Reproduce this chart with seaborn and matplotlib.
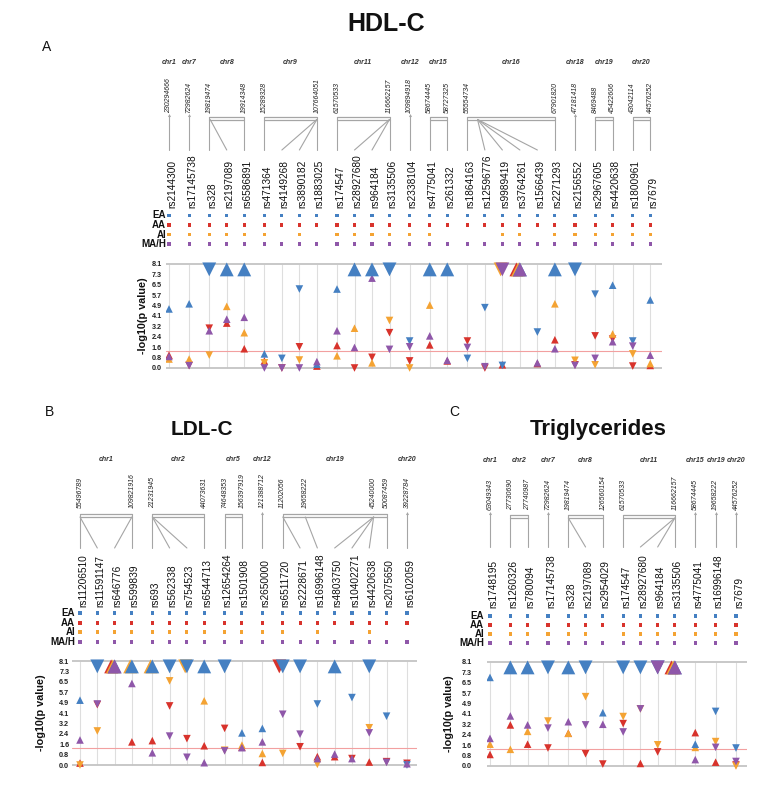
import numpy as np
import pandas as pd
import matplotlib
matplotlib.use("Agg")
import matplotlib.pyplot as plt
import seaborn as sns

sns.set_theme(style="white")
plt.rcParams["font.family"] = ["Liberation Sans", "DejaVu Sans"]

# ---------------------------------------------------------------- data
POPS = ["EA", "AA", "AI", "MA/H"]
COLORS = {"EA": "#4580c2", "AA": "#d8332c", "AI": "#f4a333", "MA/H": "#8f57a9"}
Y_TICKS = [0.0, 0.81, 1.62, 2.43, 3.24, 4.05, 4.86, 5.67, 6.48, 7.29, 8.1]
Y_TICKLABELS = ["0.0", "0.8", "1.6", "2.4", "3.2", "4.1", "4.9", "5.7", "6.5", "7.3", "8.1"]
SIG = 7.3          # genome-wide significance (capped, big marker)
P05 = 1.3          # -log10(0.05)

# ---- Panel A : HDL-C
A_snps = ["rs2144300", "rs17145738", "rs328", "rs2197089", "rs6586891", "rs471364", "rs4149268",
          "rs3890182", "rs1883025", "rs174547", "rs28927680", "rs964184", "rs3135506", "rs2338104",
          "rs4775041", "rs261332", "rs1864163", "rs12596776", "rs9989419", "rs3764261", "rs1566439",
          "rs2271293", "rs2156552", "rs2967605", "rs4420638", "rs1800961", "rs7679"]
A_chr = ["chr1", "chr7", "chr8", "chr8", "chr8", "chr9", "chr9", "chr9", "chr9", "chr11", "chr11",
         "chr11", "chr11", "chr12", "chr15", "chr15", "chr16", "chr16", "chr16", "chr16", "chr16",
         "chr16", "chr18", "chr19", "chr19", "chr20", "chr20"]
A_bp = [230294666, 72982624, 19819474, 19822000, 19914348, 15289328, 107540000, 107630000,
        107664051, 61570533, 116600000, 116640000, 116662157, 109894918, 58674445, 58727325,
        55554734, 56990000, 56995000, 57000000, 57005000, 67901820, 47181418, 8469488, 45422606,
        43042114, 44576252]
A_EA = [4.6, 5.0, 8.1, 8.1, 8.1, 1.1, 0.75, 6.15, 0.3, 6.15, 8.1, 8.1, 8.1, 2.1, 8.1, 8.1, 0.75,
        4.7, 0.2, 8.1, 2.8, 8.1, 8.1, 5.75, 6.45, 2.1, 5.3]
A_EA_dir = "^ ^ v ^ ^ ^ v v ^ ^ ^ ^ v v ^ ^ v v v ^ v ^ v v ^ v ^".split()
A_AA = [1.0, 0.2, 3.1, 3.5, 1.5, 0.55, 0.0, 1.65, 0.15, 1.75, 0.0, 0.83, 2.75, 0.55, 1.8, 0.55,
        2.1, 0.0, 0.25, 8.1, 0.35, 2.2, 0.25, 2.5, 2.25, 0.15, 0.2]
A_AA_dir = "^ v v ^ ^ ^ v v ^ ^ v v v v ^ ^ v v ^ ^ ^ ^ v v v v ^".split()
A_AI = [0.7, 0.7, 1.0, 4.8, 2.75, 0.4, None, 0.62, None, 0.95, 3.1, 0.4, 3.7, 0.0, 4.9, None,
        None, None, 8.1, 8.1, None, 5.0, 0.6, 0.25, 2.65, 1.1, 0.35]
A_AI_dir = "^ ^ v ^ ^ v ^ v ^ ^ ^ ^ v v ^ ^ ^ ^ v ^ ^ ^ v v ^ v ^".split()
A_MAH = [0.9, 0.18, 2.9, 3.8, 3.95, 0.0, 0.0, 0.0, 0.5, 2.9, 1.6, 7.0, 1.45, 1.65, 2.5, 0.6,
         1.6, 0.1, 8.1, 8.1, 0.4, 1.5, 0.2, 0.75, 2.05, 1.7, 1.0]
A_MAH_dir = "^ v ^ ^ ^ v v v ^ ^ ^ ^ v v ^ ^ v v v ^ ^ ^ v v ^ v ^".split()

# ---- Panel B : LDL-C
B_snps = ["rs11206510", "rs11591147", "rs646776", "rs599839", "rs693", "rs562338", "rs754523",
          "rs6544713", "rs12654264", "rs1501908", "rs2650000", "rs6511720", "rs2228671",
          "rs16996148", "rs4803750", "rs10402271", "rs4420638", "rs2075650", "rs6102059"]
B_chr = ["chr1", "chr1", "chr1", "chr1", "chr2", "chr2", "chr2", "chr2", "chr5", "chr5", "chr12",
         "chr19", "chr19", "chr19", "chr19", "chr19", "chr19", "chr19", "chr20"]
B_bp = [55496789, 55505000, 109800000, 109821916, 21231945, 21250000, 21300000, 44073631,
        74648353, 156397919, 121388712, 11202056, 11230000, 19658222, 45240000, 45245000,
        45247627, 50087459, 39228784]
B_EA = [5.05, 8.1, 8.1, 8.1, 8.1, 8.1, 8.1, 8.1, 8.1, 2.5, 2.85, 8.1, 8.1, 4.75, 8.1, 5.25, 8.1,
        3.8, 0.0]
B_EA_dir = "^ v ^ ^ ^ v v ^ v ^ ^ v v v ^ v v v v".split()
B_AA = [0.15, 4.7, 8.1, 1.8, 1.9, 4.6, 2.05, 1.5, 2.85, 1.4, 0.2, 8.1, 1.42, 0.65, 0.65, 0.5,
        0.23, 0.26, 0.13]
B_AA_dir = "^ v ^ ^ ^ v v ^ v ^ ^ v v ^ ^ v ^ v v".split()
B_AI = [0.0, 2.65, 8.1, 8.1, 8.1, 6.55, 8.1, 5.0, 1.15, 1.55, 0.9, 0.9, None, 0.05, None, None,
        2.9, None, None]
B_AI_dir = "v v ^ ^ ^ v v ^ v ^ ^ v v v ^ ^ v v v".split()
B_MAH = [1.95, 4.75, 8.1, 6.35, 0.95, 2.25, 0.6, 0.18, 1.1, 1.35, 1.8, 3.95, 2.4, 0.5, 0.85,
         0.5, 2.5, 0.2, 0.1]
B_MAH_dir = "^ v ^ ^ ^ v v ^ v ^ ^ v v ^ ^ ^ v v ^".split()

# ---- Panel C : Triglycerides
C_snps = ["rs1748195", "rs1260326", "rs780094", "rs17145738", "rs328", "rs2197089", "rs2954029",
          "rs174547", "rs28927680", "rs964184", "rs3135506", "rs4775041", "rs16996148", "rs7679"]
C_chr = ["chr1", "chr2", "chr2", "chr7", "chr8", "chr8", "chr8", "chr11", "chr11", "chr11",
         "chr11", "chr15", "chr19", "chr20"]
C_bp = [63049343, 27730690, 27740987, 72982624, 19819474, 19822000, 126560154, 61570533,
        116600000, 116640000, 116662157, 58674445, 19658222, 44576252]
C_EA = [6.9, 8.1, 8.1, 8.1, 8.1, 8.1, 4.15, 8.1, 8.1, 8.1, 8.1, 1.7, 4.25, 1.4]
C_EA_dir = "^ ^ ^ v ^ v ^ v v v ^ ^ v v".split()
C_AA = [0.9, 3.2, 1.7, 1.4, 2.55, 0.95, 0.15, 3.3, 0.2, 1.1, 8.1, 2.6, 0.3, 0.08]
C_AA_dir = "^ ^ ^ v ^ v v v ^ v ^ ^ ^ v".split()
C_AI = [1.7, 1.3, 2.7, 3.5, 2.55, 5.4, None, 3.85, 4.45, 1.65, 8.1, 1.45, 1.9, 0.0]
C_AI_dir = "^ ^ ^ v ^ v ^ v v v ^ ^ v v".split()
C_MAH = [2.15, 3.9, 3.2, 2.95, 3.45, 3.2, 3.25, 2.65, 4.45, 8.1, 8.1, 0.5, 1.45, 0.35]
C_MAH_dir = "^ ^ ^ v ^ v ^ v v v ^ ^ v v".split()

# ---------------------------------------------------------------- layout
W, H = 775, 785
fig = plt.figure(figsize=(W / 100, H / 100), dpi=100)


def px_axes(x0, y0, x1, y1):
    return fig.add_axes([x0 / W, 1 - y1 / H, (x1 - x0) / W, (y1 - y0) / H])


def ftext(px, py, s, **kw):
    fig.text(px / W, 1 - py / H, s, **kw)


DRAW_ORDER = {"AA": 0, "AI": 1, "EA": 2, "MA/H": 3}
BIG_OFFSET = {"AA": -0.2, "AI": -0.1, "EA": 0.0, "MA/H": 0.0}

PANELS = [
    dict(snps=A_snps, chr=A_chr, bp=A_bp,
         vals={"EA": (A_EA, A_EA_dir), "AA": (A_AA, A_AA_dir), "AI": (A_AI, A_AI_dir),
               "MA/H": (A_MAH, A_MAH_dir)},
         first=169, unit=17.5, gap=0.15, x0=166, x1=662, ytop=264, ybot=368,
         chr_y=62, pos_bot=113, br_top=116.5, br_bot=119.5, line_end=150, lab_bot=208,
         rows=[215.5, 225, 234.5, 244], rowlab=166, tickpad=3, ylab_x=143,
         title="HDL-C", title_xy=(386, 31), title_fs=18, letter="A", letter_xy=(47, 51)),
    dict(snps=B_snps, chr=B_chr, bp=B_bp,
         vals={"EA": (B_EA, B_EA_dir), "AA": (B_AA, B_AA_dir), "AI": (B_AI, B_AI_dir),
               "MA/H": (B_MAH, B_MAH_dir)},
         first=80, unit=17.3, gap=0.18, x0=72, x1=417, ytop=661, ybot=765,
         chr_y=459, pos_bot=508, br_top=514, br_bot=517, line_end=548, lab_bot=607,
         rows=[613, 623, 632, 642], rowlab=75, tickpad=2, ylab_x=41,
         title="LDL-C", title_xy=(202, 435), title_fs=15, letter="B", letter_xy=(50, 416)),
    dict(snps=C_snps, chr=C_chr, bp=C_bp,
         vals={"EA": (C_EA, C_EA_dir), "AA": (C_AA, C_AA_dir), "AI": (C_AI, C_AI_dir),
               "MA/H": (C_MAH, C_MAH_dir)},
         first=490, unit=17.25, gap=0.18, x0=487, x1=747, ytop=662, ybot=766,
         chr_y=461, pos_bot=510, br_top=515, br_bot=518, line_end=547, lab_bot=608,
         rows=[616, 625, 634, 643], rowlab=484, tickpad=11, ylab_x=449,
         title="Triglycerides", title_xy=(598, 435), title_fs=16, letter="C", letter_xy=(454, 416)),
]

LINE_C = "#a5a5a5"


def draw_panel(cfg):
    snps, chrs, bp = cfg["snps"], cfg["chr"], np.array(cfg["bp"], dtype=float)
    n = len(snps)
    gidx, g, prev = [], -1, None
    for c in chrs:
        if c != prev:
            g += 1
            prev = c
        gidx.append(g)
    gidx = np.array(gidx)
    xs = np.arange(n) + cfg["gap"] * gidx
    u, f0 = cfg["unit"], cfg["first"]

    def to_x(px):
        return (px - f0) / u

    xlim = (to_x(cfg["x0"]), to_x(cfg["x1"]))

    # ------------------------------------------------ annotation area
    top = cfg["chr_y"] - 12
    bot = cfg["rows"][-1] + 8
    ax_a = px_axes(cfg["x0"], top, cfg["x1"], bot)
    ax_a.set_xlim(*xlim)
    ax_a.set_ylim(bot, top)
    ax_a.axis("off")

    for gg in np.unique(gidx):
        mem = np.where(gidx == gg)[0]
        xL, xR = xs[mem[0]], xs[mem[-1]]
        ax_a.text((xL + xR) / 2, cfg["chr_y"], chrs[mem[0]], ha="center", va="center",
                  fontsize=5, fontstyle="italic", fontweight="bold", color="#333333")
        if len(mem) == 1:
            i = mem[0]
            ax_a.plot([xs[i], xs[i]], [cfg["br_top"] - 1.5, cfg["line_end"]], color=LINE_C, lw=0.8)
            ax_a.plot([xs[i]], [cfg["br_top"] - 1.5], marker="^", ms=2.2, color=LINE_C, mew=0)
            ax_a.text(xs[i], cfg["pos_bot"], f"{int(bp[i])}", rotation=90, ha="center",
                      va="bottom", fontsize=5, fontstyle="italic", color="#222222")
            continue
        bmin, bmax = bp[mem].min(), bp[mem].max()
        bx = xL + (bp[mem] - bmin) / (bmax - bmin) * (xR - xL)
        for yy in (cfg["br_top"], cfg["br_bot"]):
            ax_a.plot([xL, xR], [yy, yy], color=LINE_C, lw=0.9)
        labelled = []
        order = [0, len(mem) - 1] + list(range(1, len(mem) - 1))
        for k in order:
            if all(abs(bx[k] - b) * u > 12 for b in labelled) or k in (0, len(mem) - 1):
                if any(abs(bx[k] - b) * u < 0.5 for b in labelled):
                    continue
                labelled.append(bx[k])
                ax_a.text(bx[k], cfg["pos_bot"], f"{int(bp[mem][k])}", rotation=90, ha="center",
                          va="bottom", fontsize=5, fontstyle="italic", color="#222222")
        for k, i in enumerate(mem):
            at_end = k in (0, len(mem) - 1)
            y_start = cfg["br_top"] if at_end else cfg["br_bot"]
            ax_a.plot([bx[k], xs[i]], [y_start, cfg["line_end"]], color=LINE_C, lw=0.8)

    for i, s in enumerate(snps):
        ax_a.text(xs[i] + 0.17, cfg["lab_bot"], s, rotation=90, ha="center", va="bottom",
                  fontsize=7.3, color="#111111")

    dots = []
    for r, p in enumerate(POPS):
        vals, _ = cfg["vals"][p]
        for i, v in enumerate(vals):
            if v is not None:
                dots.append(dict(x=xs[i], y=cfg["rows"][r], pop=p))
        ax_a.text(to_x(cfg["rowlab"]), cfg["rows"][r], p, ha="right", va="center",
                  fontsize=7, fontweight="bold", color="#111111")
    sns.scatterplot(data=pd.DataFrame(dots), x="x", y="y", hue="pop", palette=COLORS,
                    marker="s", s=5, linewidth=0, legend=False, ax=ax_a)
    ax_a.set_xlim(*xlim)
    ax_a.set_ylim(bot, top)

    # ------------------------------------------------ association plot
    k = (cfg["ybot"] - cfg["ytop"]) / 8.1
    lo, hi = -0.7, 8.75
    ax = px_axes(cfg["x0"], cfg["ytop"] - (hi - 8.1) * k, cfg["x1"], cfg["ybot"] - lo * k)
    ax.set_xlim(*xlim)
    ax.set_ylim(lo, hi)
    for sp in ax.spines.values():
        sp.set_visible(False)
    ax.vlines(xs, 0, 8.1, color="#dedede", lw=0.8, zorder=0)
    ax.axhline(8.1, color="#c4c4c4", lw=1.3, zorder=0)
    ax.axhline(0.0, color="#c4c4c4", lw=1.3, zorder=0)
    ax.axhline(P05, color="#f2a0a0", lw=0.8, zorder=0)

    rows = []
    for p in POPS:
        vals, dirs = cfg["vals"][p]
        for i, v in enumerate(vals):
            if v is None:
                continue
            big = v >= SIG
            rows.append(dict(x=xs[i] + (BIG_OFFSET[p] if big else 0.0),
                             y=7.68 if big else v, pop=p, dir=dirs[i],
                             size="L" if big else "S",
                             order=(1 if big else 0) * 10 + DRAW_ORDER[p]))
    df = pd.DataFrame(rows).sort_values("order", kind="stable")
    sns.scatterplot(data=df, x="x", y="y", hue="pop", palette=COLORS, style="dir",
                    markers={"^": "^", "v": "v"}, size="size", sizes={"S": 30, "L": 100},
                    linewidth=0, edgecolor="none", legend=False, ax=ax, zorder=3)
    ax.set_xlabel("")
    ax.set_ylabel("")
    ax.set_xticks([])
    ax.set_yticks(Y_TICKS)
    ax.set_yticklabels(Y_TICKLABELS)
    ax.tick_params(axis="y", length=0, pad=cfg["tickpad"], labelsize=5.2, labelcolor="#222222")
    for t in ax.get_yticklabels():
        t.set_fontweight("bold")

    ftext(cfg["ylab_x"], (cfg["ytop"] + cfg["ybot"]) / 2, "-log10(p value)", rotation=90,
          ha="center", va="center", fontsize=7.8, fontweight="bold", color="#111111")
    ftext(cfg["title_xy"][0], cfg["title_xy"][1], cfg["title"], ha="center", va="baseline",
          fontsize=cfg["title_fs"], fontweight="bold", color="#111111")
    ftext(cfg["letter_xy"][0], cfg["letter_xy"][1], cfg["letter"], ha="center", va="baseline",
          fontsize=10, color="#111111")


for cfg in PANELS:
    draw_panel(cfg)

fig.savefig("out.png", dpi=100, facecolor="white")
